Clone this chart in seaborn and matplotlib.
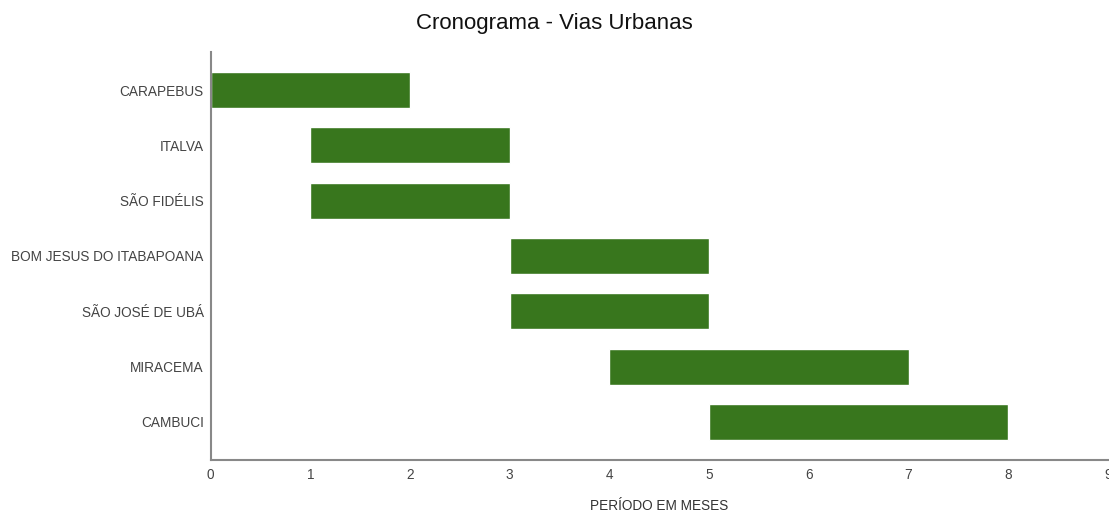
import matplotlib
matplotlib.use("Agg")
import matplotlib.pyplot as plt
import seaborn as sns
import pandas as pd

# cronograma - inicio e duracao em meses
municipios = ["CARAPEBUS", "ITALVA", "SÃO FIDÉLIS", "BOM JESUS DO ITABAPOANA",
              "SÃO JOSÉ DE UBÁ", "MIRACEMA", "CAMBUCI"]
inicio = [0, 1, 1, 3, 3, 4, 5]
duracao = [2, 2, 2, 2, 2, 3, 3]

df = pd.DataFrame({"municipio": municipios, "inicio": inicio, "duracao": duracao})

sns.set_theme(style="white")
plt.rcParams["font.family"] = ["Liberation Sans", "DejaVu Sans"]

fig = plt.figure(figsize=(11.09, 5.14), dpi=100)
ax = fig.add_axes([0.190, 0.105, 0.809, 0.794])

sns.barplot(data=df, x="duracao", y="municipio", orient="h", left=df["inicio"],
            color="#38761d", saturation=1, width=0.65, ax=ax)

ax.set_xlim(0, 9)
ax.set_ylim(6.69, -0.69)
ax.set_xticks(range(0, 10))
ax.set_ylabel("")
ax.set_xlabel("PERÍODO EM MESES", fontsize=9.8, color="#333333", labelpad=12)
ax.tick_params(axis="both", length=0, labelsize=9.8, colors="#444444")
ax.tick_params(axis="y", pad=5)
ax.tick_params(axis="x", pad=6)
for s in ["top", "right"]:
    ax.spines[s].set_visible(False)
for s in ["left", "bottom"]:
    ax.spines[s].set_color("#888888")
    ax.spines[s].set_linewidth(1.5)

fig.suptitle("Cronograma - Vias Urbanas", fontsize=16, y=0.975, color="#111111")

plt.savefig("out.png", dpi=100)
